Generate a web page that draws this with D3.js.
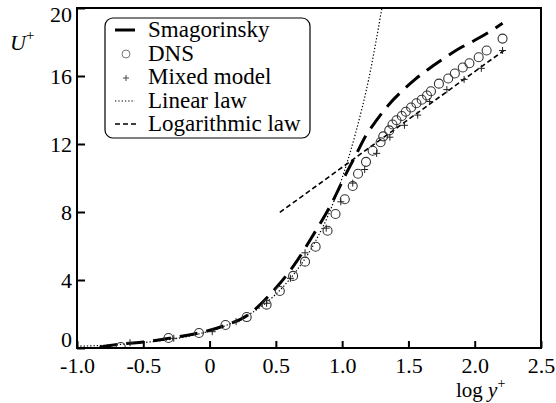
<!DOCTYPE html>
<html>
<head>
<meta charset="utf-8">
<script src="https://cdn.jsdelivr.net/npm/d3@7"></script>
<style>
  body { margin: 0; background: #fff; }
  svg text { font-family: "Liberation Serif", "DejaVu Serif", serif; }
</style>
</head>
<body>
<div id="chart"></div>
<script>
// log y+ / U+ values
const smagX = [-0.83, -0.65, -0.5, -0.3, -0.1, 0.1, 0.3, 0.45, 0.52, 0.64, 0.77, 0.92, 1.02, 1.10, 1.18, 1.26, 1.35, 1.45, 1.55, 1.65, 1.76, 1.88, 2.00, 2.10, 2.21];
const smagU = [0.05, 0.25, 0.35, 0.58, 0.85, 1.28, 2.0, 3.1, 3.7, 4.9, 6.5, 8.5, 10.1, 11.3, 12.5, 13.4, 14.3, 15.1, 15.8, 16.4, 17.0, 17.6, 18.1, 18.55, 19.1];

const dnsX = [-0.67, -0.31, -0.08, 0.12, 0.28, 0.43, 0.53, 0.63, 0.72, 0.80, 0.89, 0.95, 1.02, 1.08, 1.12, 1.18, 1.23, 1.29, 1.31, 1.355, 1.38, 1.41, 1.45, 1.48, 1.52, 1.56, 1.60, 1.64, 1.67, 1.73, 1.80, 1.85, 1.91, 1.96, 2.03, 2.09, 2.21];
const dnsU = [0.06, 0.59, 0.88, 1.35, 1.82, 2.55, 3.35, 4.24, 5.08, 5.96, 6.9, 7.88, 8.75, 9.53, 10.25, 10.95, 11.6, 12.1, 12.45, 12.8, 13.15, 13.4, 13.65, 13.9, 14.15, 14.4, 14.6, 14.85, 15.1, 15.55, 15.85, 16.15, 16.5, 16.75, 17.1, 17.5, 18.2];

const mixedX = [-0.60, -0.27, 0.02, 0.20, 0.43, 0.61, 0.72, 0.88, 0.99, 1.08, 1.17, 1.26, 1.36, 1.47, 1.57, 1.66, 1.79, 1.92, 2.05, 2.21];
const mixedU = [0.31, 0.57, 0.96, 1.55, 2.63, 4.1, 5.6, 7.05, 8.6, 9.7, 10.5, 11.45, 12.4, 13.1, 13.7, 14.5, 15.2, 15.8, 16.45, 17.5];

const linX = [-1.0, -0.7, -0.4, -0.2, 0.0, 0.2, 0.4, 0.6, 0.8, 0.9, 1.0, 1.1, 1.2, 1.3];
const linU = [0.1, 0.2, 0.4, 0.63, 1.0, 1.58, 2.5, 4.0, 6.3, 7.9, 10.0, 12.6, 15.8, 20.0];

const logX = [0.53, 2.22];
const logU = [7.98, 17.5];

const xTicks = [-1.0, -0.5, 0, 0.5, 1.0, 1.5, 2.0, 2.5];
const xTickLabels = ["-1.0", "-0.5", "0", "0.5", "1.0", "1.5", "2.0", "2.5"];
const yTicks = [0, 4, 8, 12, 16, 20];

const legendNames = ["Smagorinsky", "DNS", "Mixed model", "Linear law", "Logarithmic law"];

const FONT = "'Liberation Serif', 'DejaVu Serif', serif";
const W = 556, H = 403;
const margin = { top: 8, right: 15, bottom: 55, left: 77 };

const svg = d3.select("#chart").append("svg")
    .attr("width", W)
    .attr("height", H)
    .attr("font-family", FONT);

const x = d3.scaleLinear().domain([-1, 2.5]).range([margin.left, W - margin.right]);
const y = d3.scaleLinear().domain([0, 20]).range([H - margin.bottom, margin.top]);

const zip = (xs, ys) => xs.map((v, i) => [v, ys[i]]);
const line = d3.line().x(d => x(d[0])).y(d => y(d[1]));

svg.append("clipPath").attr("id", "clip")
    .append("rect")
    .attr("x", margin.left).attr("y", margin.top)
    .attr("width", W - margin.left - margin.right)
    .attr("height", H - margin.top - margin.bottom);

const plot = svg.append("g").attr("clip-path", "url(#clip)");

// linear law (dotted)
plot.append("path")
    .datum(zip(linX, linU))
    .attr("d", line.curve(d3.curveMonotoneX))
    .attr("fill", "none").attr("stroke", "#000")
    .attr("stroke-width", 1.2).attr("stroke-dasharray", "1.3,2");

// log law (dashed)
plot.append("path")
    .datum(zip(logX, logU))
    .attr("d", line.curve(d3.curveLinear))
    .attr("fill", "none").attr("stroke", "#000")
    .attr("stroke-width", 1.6).attr("stroke-dasharray", "5,3");

// Smagorinsky (long dash)
plot.append("path")
    .datum(zip(smagX, smagU))
    .attr("d", line.curve(d3.curveMonotoneX))
    .attr("fill", "none").attr("stroke", "#000")
    .attr("stroke-width", 3).attr("stroke-dasharray", "18,9");

// DNS circles
plot.selectAll(".dns")
    .data(zip(dnsX, dnsU))
    .enter().append("circle")
    .attr("class", "dns")
    .attr("cx", d => x(d[0]))
    .attr("cy", d => y(d[1]))
    .attr("r", 4.5)
    .attr("fill", "none")
    .attr("stroke", "#333")
    .attr("stroke-width", 1.1);

// mixed model crosses
plot.selectAll(".mixed")
    .data(zip(mixedX, mixedU))
    .enter().append("path")
    .attr("class", "mixed")
    .attr("transform", d => `translate(${x(d[0])},${y(d[1])})`)
    .attr("d", "M-3.5,0H3.5M0,-3.5V3.5")
    .attr("stroke", "#222")
    .attr("stroke-width", 1);

// Trục X
const xAxis = svg.append("g")
    .attr("transform", `translate(0,${H - margin.bottom})`)
    .call(d3.axisBottom(x).tickValues(xTicks).tickFormat((d, i) => xTickLabels[i])
        .tickSizeInner(-7).tickSizeOuter(0).tickPadding(9));
xAxis.attr("font-family", FONT).attr("font-size", 22);
xAxis.select(".domain").remove();
xAxis.selectAll("line").attr("stroke-width", 2);
xAxis.selectAll("text").attr("fill", "#000");

// Trục Y
const yAxis = svg.append("g")
    .attr("transform", `translate(${margin.left},0)`)
    .call(d3.axisLeft(y).tickValues(yTicks).tickSizeInner(-8).tickSizeOuter(0).tickPadding(5));
yAxis.attr("font-family", FONT).attr("font-size", 22);
yAxis.select(".domain").remove();
yAxis.selectAll("line").attr("stroke-width", 2);
yAxis.selectAll("text").attr("fill", "#000")
    .attr("dy", d => d === 0 ? "-0.05em" : d === 20 ? "0.6em" : "0.32em");

// frame
svg.append("rect")
    .attr("x", margin.left).attr("y", margin.top)
    .attr("width", W - margin.left - margin.right)
    .attr("height", H - margin.top - margin.bottom)
    .attr("fill", "none").attr("stroke", "#000").attr("stroke-width", 2);

// axis titles
const yt = svg.append("text").attr("x", 10).attr("y", 50).attr("font-size", 22);
yt.append("tspan").attr("font-style", "italic").text("U");
yt.append("tspan").attr("dy", -10).attr("font-size", 15).text("+");

const xt = svg.append("text").attr("x", 456).attr("y", 397).attr("font-size", 21);
xt.append("tspan").text("log ");
xt.append("tspan").attr("font-style", "italic").text("y");
xt.append("tspan").attr("dy", -9).attr("font-size", 14).text("+");

// legend
const lg = svg.append("g");
lg.append("rect")
    .attr("x", 105).attr("y", 18).attr("width", 205).attr("height", 120).attr("rx", 8)
    .attr("fill", "#fff").attr("stroke", "#000").attr("stroke-width", 1.2);

const baseY = [37, 61, 84, 108, 131];
lg.selectAll(".lt")
    .data(legendNames)
    .enter().append("text")
    .attr("class", "lt")
    .attr("x", 148).attr("y", (d, i) => baseY[i])
    .attr("font-size", 23)
    .text(d => d);

const sy = i => baseY[i] - 7;
lg.append("line").attr("x1", 115).attr("x2", 135).attr("y1", sy(0)).attr("y2", sy(0))
    .attr("stroke", "#000").attr("stroke-width", 3);
lg.append("circle").attr("cx", 126).attr("cy", sy(1)).attr("r", 4)
    .attr("fill", "none").attr("stroke", "#777").attr("stroke-width", 1);
lg.append("path").attr("transform", `translate(126,${sy(2) + 1})`)
    .attr("d", "M-3,0H3M0,-3V3").attr("stroke", "#444").attr("stroke-width", 1);
lg.append("line").attr("x1", 115).attr("x2", 135).attr("y1", sy(3)).attr("y2", sy(3))
    .attr("stroke", "#000").attr("stroke-width", 1.2).attr("stroke-dasharray", "1.3,2");
lg.append("line").attr("x1", 115).attr("x2", 136).attr("y1", sy(4)).attr("y2", sy(4))
    .attr("stroke", "#000").attr("stroke-width", 1.6).attr("stroke-dasharray", "5,3");
</script>
</body>
</html>
